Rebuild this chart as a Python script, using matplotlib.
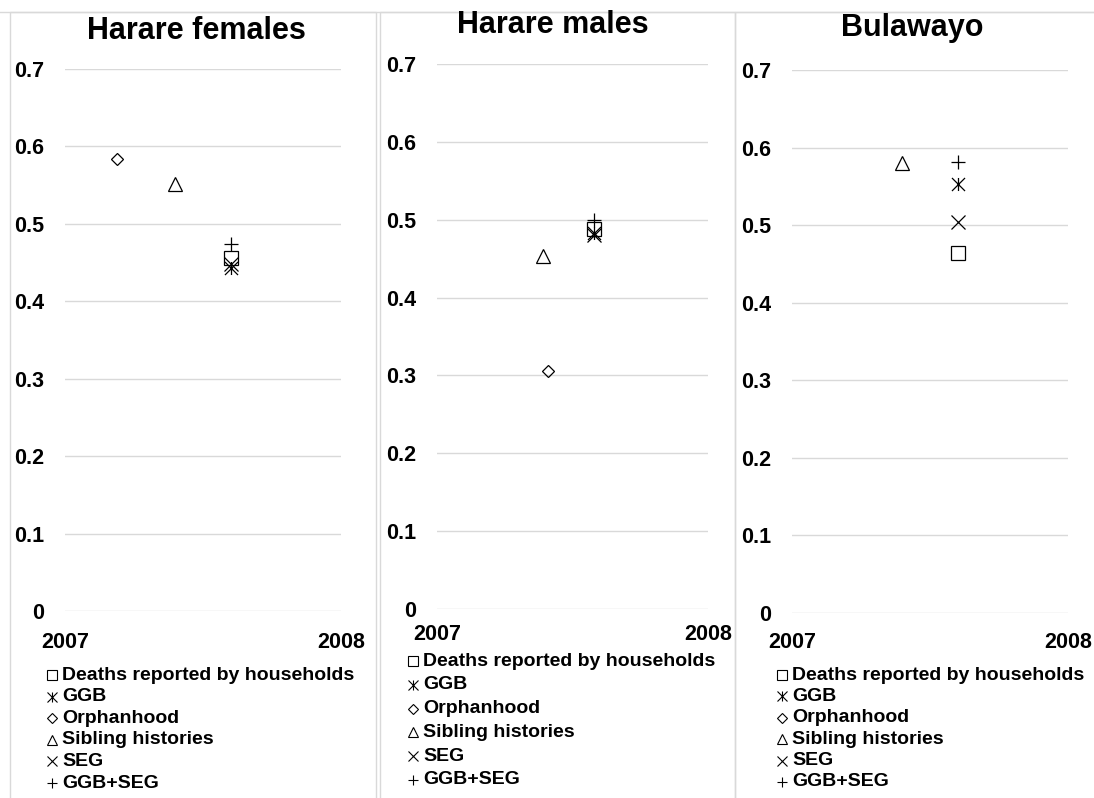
import matplotlib
matplotlib.use("Agg")
import matplotlib.pyplot as plt
from matplotlib.path import Path
from matplotlib.lines import Line2D
from matplotlib.patches import Rectangle

plt.rcParams['font.family'] = ['Liberation Sans', 'DejaVu Sans']
plt.rcParams['font.weight'] = 'bold'

# ---------------- data ----------------
series = ["Deaths reported by households", "GGB", "Orphanhood",
          "Sibling histories", "SEG", "GGB+SEG"]
panel_titles = ["Harare females", "Harare males", "Bulawayo"]

hf_x = [2007.60, 2007.60, 2007.19, 2007.40, 2007.60, 2007.60]
hf_y = [0.456, 0.443, 0.584, 0.551, 0.448, 0.474]

hm_x = [2007.58, 2007.58, 2007.41, 2007.39, 2007.58, 2007.58]
hm_y = [0.488, 0.483, 0.306, 0.453, 0.480, 0.500]

bu_x = [2007.60, 2007.60, None, 2007.40, 2007.60, 2007.60]
bu_y = [0.464, 0.553, None, 0.580, 0.504, 0.581]

y_ticks = [0, 0.1, 0.2, 0.3, 0.4, 0.5, 0.6, 0.7]
y_tick_labels = ["0", "0.1", "0.2", "0.3", "0.4", "0.5", "0.6", "0.7"]
x_ticks = [2007, 2008]
x_tick_labels = ["2007", "2008"]

# ---------------- styles ----------------
star = Path([(0, -1), (0, 1), (-1, -1), (1, 1), (-1, 1), (1, -1)],
            [Path.MOVETO, Path.LINETO] * 3)
markers = ['s', star, 'D', '^', 'x', '+']
msizes = [9.4, 9.4, 6.6, 9.4, 9.4, 9.4]
leg_msizes = [7.2, 7.2, 5.2, 7.2, 7.2, 7.2]

W, H = 1094, 798
fig = plt.figure(figsize=(W / 100, H / 100), dpi=100)

def fx(px):
    return px / W

def fy(py):
    return 1 - py / H

# panel frames (pixels: left, right)
frames = [(10, 376), (380, 735), (735, 1100)]
for l, r in frames:
    fig.add_artist(Rectangle((fx(l), fy(805)), fx(r - l), (805 - 12) / H,
                             transform=fig.transFigure, fill=False,
                             ec='#d9d9d9', lw=1.0))

# axes geometry in pixels: left, right, top(0.7), bottom(0)
geoms = [(65, 341, 69, 611), (437, 708, 64, 609), (792, 1068, 70, 613)]
datasets = [(hf_x, hf_y), (hm_x, hm_y), (bu_x, bu_y)]
title_pos = [(196, 31), (553, 25), (912, 28)]
xpad = [15, 11, 14]
legend_rows = [(52, 675, 21.6), (413, 661, 23.8), (782, 675, 21.4)]

for i in range(3):
    l, r, t, b = geoms[i]
    ax = fig.add_axes([fx(l), fy(b), fx(r - l), (b - t) / H])
    xs, ys = datasets[i]
    for k in range(len(series)):
        if xs[k] is None:
            continue
        ax.plot([xs[k]], [ys[k]], linestyle='none', marker=markers[k],
                markersize=msizes[k], markerfacecolor='none',
                markeredgecolor='black', markeredgewidth=0.9, clip_on=False)
    ax.set_xlim(x_ticks[0], x_ticks[-1])
    ax.set_ylim(0, 0.7)
    ax.set_yticks(y_ticks)
    ax.set_yticklabels(y_tick_labels)
    ax.set_xticks(x_ticks)
    ax.set_xticklabels(x_tick_labels)
    for s in ax.spines.values():
        s.set_visible(False)
    ax.tick_params(axis='y', length=0, pad=15, labelsize=15.5)
    ax.tick_params(axis='x', length=0, pad=xpad[i], labelsize=15.5)
    ax.yaxis.grid(True, color='#d9d9d9', linewidth=1.0)
    ax.set_axisbelow(True)
    ax.set_facecolor('none')

    tx, ty = title_pos[i]
    fig.text(fx(tx), fy(ty), panel_titles[i], ha='center', va='center',
             fontsize=22, fontweight='bold')

    mx, y0, dy = legend_rows[i]
    for k, name in enumerate(series):
        yy = y0 + k * dy
        fig.add_artist(Line2D([fx(mx)], [fy(yy)], transform=fig.transFigure,
                              linestyle='none', marker=markers[k],
                              markersize=leg_msizes[k], markerfacecolor='none',
                              markeredgecolor='black', markeredgewidth=0.8))
        fig.text(fx(mx + 10), fy(yy), name, ha='left', va='center',
                 fontsize=14, fontweight='bold')

fig.add_artist(Line2D([0, 1], [fy(12), fy(12)], transform=fig.transFigure,
                      color='#d9d9d9', lw=1.0))

fig.savefig("out.png", dpi=100)
